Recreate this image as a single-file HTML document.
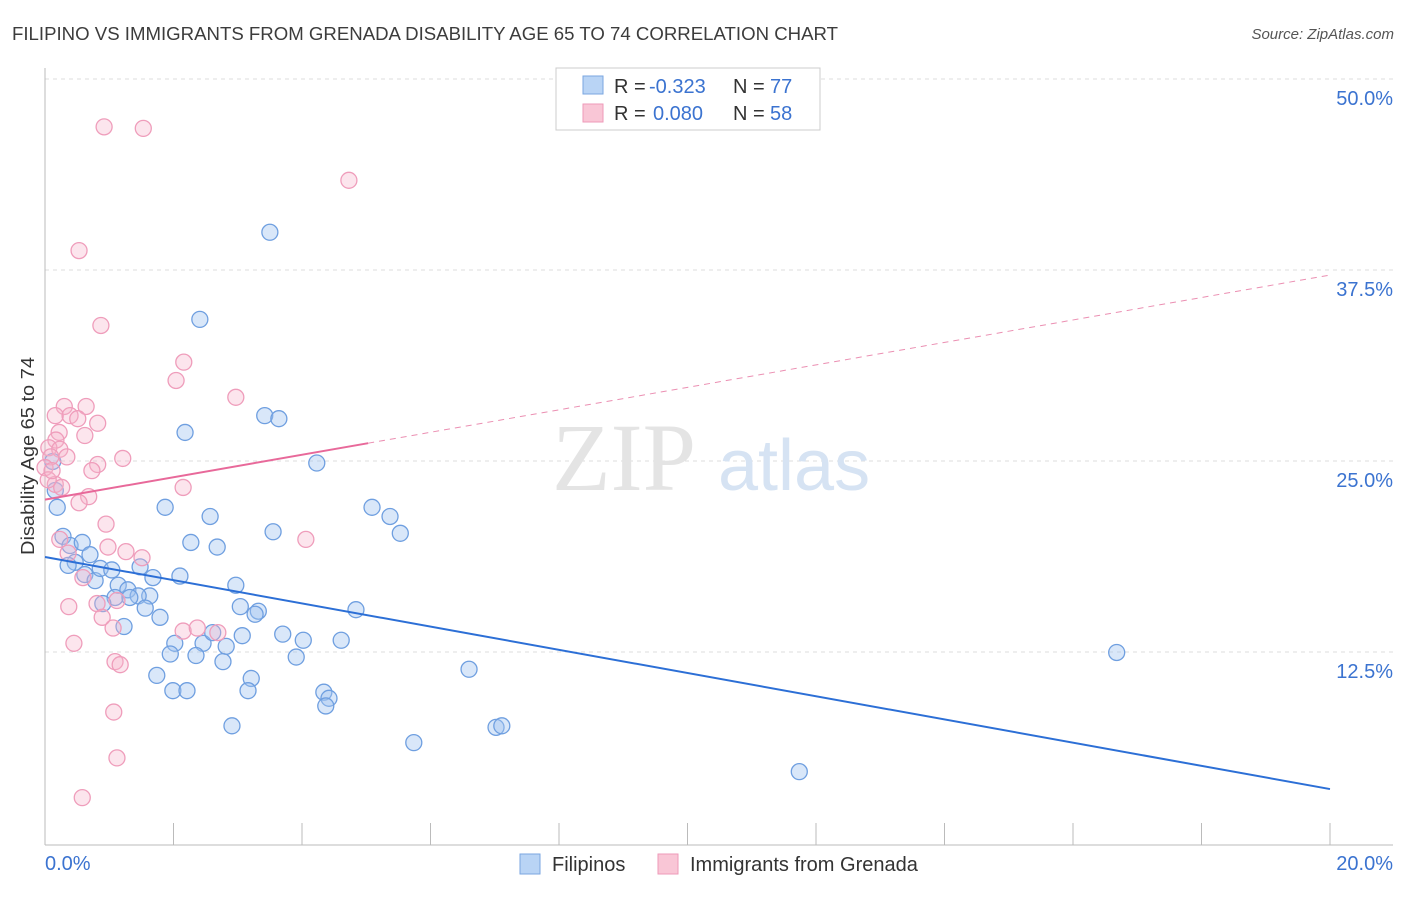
<!DOCTYPE html>
<html><head><meta charset="utf-8">
<style>
body{margin:0;background:#fff;font-family:"Liberation Sans",sans-serif;}
svg text{font-family:"Liberation Sans",sans-serif;}
</style></head>
<body>
<svg id="chart" width="1406" height="892" viewBox="0 0 1406 892" xmlns="http://www.w3.org/2000/svg">
<text x="12" y="40" font-size="18.6" fill="#3c3c3c" textLength="826" lengthAdjust="spacingAndGlyphs">FILIPINO VS IMMIGRANTS FROM GRENADA DISABILITY AGE 65 TO 74 CORRELATION CHART</text>
<text x="1394" y="39" font-size="15" fill="#555" text-anchor="end" font-style="italic">Source: ZipAtlas.com</text>
<g id="grid"></g>
<text x="552" y="490" font-size="96" fill="#e4e4e4" style="font-family:'Liberation Serif',serif">ZIP</text>
<text x="718" y="490" font-size="72" fill="#d6e3f3">atlas</text>
<g id="marks"></g>
<text transform="translate(34,456) rotate(-90)" font-size="18" fill="#333" text-anchor="middle" textLength="198" lengthAdjust="spacingAndGlyphs">Disability Age 65 to 74</text>
<g>
<rect x="556" y="68" width="264" height="62" fill="#fff" stroke="#ccc"/>
<rect x="583" y="76" width="20" height="18" fill="#b9d4f5" stroke="#7aa6e0"/>
<rect x="583" y="104" width="20" height="18" fill="#f9c6d6" stroke="#ee9ab8"/>
<text x="614" y="93" font-size="20" fill="#333">R =</text>
<text x="649" y="93" font-size="20" fill="#3b73d0">-0.323</text>
<text x="733" y="93" font-size="20" fill="#333">N =</text>
<text x="770" y="93" font-size="20" fill="#3b73d0">77</text>
<text x="614" y="120" font-size="20" fill="#333">R =</text>
<text x="653" y="120" font-size="20" fill="#3b73d0">0.080</text>
<text x="733" y="120" font-size="20" fill="#333">N =</text>
<text x="770" y="120" font-size="20" fill="#3b73d0">58</text>
</g>
<g>
<rect x="520" y="854" width="20" height="20" fill="#b9d4f5" stroke="#7aa6e0"/>
<text x="552" y="871" font-size="20" fill="#333">Filipinos</text>
<rect x="658" y="854" width="20" height="20" fill="#f9c6d6" stroke="#ee9ab8"/>
<text x="690" y="871" font-size="20" fill="#333">Immigrants from Grenada</text>
</g>
</svg>
<script>
const xTicks=[0,2,4,6,8,10,12,14,16,18,20];
const yTicks=[12.5,25,37.5,50];
const yTickLabels=["12.5%","25.0%","37.5%","50.0%"];
const blueX=[3.50,2.41,2.18,3.42,3.64,4.23,1.87,2.57,5.09,5.37,5.53,3.55,2.27,2.68,0.19,0.16,0.12,0.28,0.39,0.58,0.70,0.47,0.36,0.62,0.78,0.86,1.04,1.14,1.29,1.48,1.68,2.10,2.97,1.63,1.45,1.32,1.09,0.90,1.56,1.79,1.23,3.04,3.32,3.27,4.84,3.07,3.70,4.02,4.61,2.02,2.46,2.61,2.82,1.95,2.35,2.77,3.91,1.74,3.21,1.99,2.21,3.16,4.34,4.42,4.37,6.60,2.91,7.02,7.11,5.74,11.74,16.68];
const blueY=[40.1,34.4,27.0,28.1,27.9,25.0,22.1,21.5,22.1,21.5,20.4,20.5,19.8,19.5,22.1,23.2,25.1,20.2,19.6,19.8,19.0,18.5,18.3,17.7,17.3,18.1,18.0,17.0,16.7,18.2,17.5,17.6,17.0,16.3,16.3,16.2,16.2,15.8,15.5,14.9,14.3,15.6,15.3,15.1,15.4,13.7,13.8,13.4,13.4,13.2,13.2,13.9,13.0,12.5,12.4,12.0,12.3,11.1,10.9,10.1,10.1,10.1,10.0,9.6,9.1,11.5,7.8,7.7,7.8,6.7,4.8,12.6];
const pinkX=[0.92,1.53,4.73,0.53,0.87,2.16,2.04,2.97,0.30,0.64,0.16,0.39,0.51,0.82,0.22,0.62,0.17,0.06,0.23,0.34,0.09,0.0,0.82,0.73,1.21,0.16,0.26,2.15,0.68,0.53,0.95,4.06,0.23,0.36,0.98,1.26,1.51,0.59,0.81,1.12,0.37,0.89,2.15,2.37,2.69,1.06,0.45,1.09,1.17,1.07,1.12,0.58,0.05,0.11];
const pinkY=[47.0,46.9,43.5,38.9,34.0,31.6,30.4,29.3,28.7,28.7,28.1,28.1,27.9,27.6,27.0,26.8,26.5,26.0,25.9,25.4,25.4,24.7,24.9,24.5,25.3,23.6,23.4,23.4,22.8,22.4,21.0,20.0,20.0,19.1,19.5,19.2,18.8,17.5,15.8,16.0,15.6,14.9,14.0,14.2,13.9,14.2,13.2,12.0,11.8,8.7,5.7,3.1,23.9,24.5];
const blueTrend=[18.85,3.66];
const pinkTrend=[22.6,37.3];
const pinkSolidEnd=5.03;

const NS="http://www.w3.org/2000/svg";
const X=v=>45+v/20*1285;
const Y=v=>845-v*15.28;
function mk(tag,attrs,parent){const e=document.createElementNS(NS,tag);for(const k in attrs)e.setAttribute(k,attrs[k]);parent.appendChild(e);return e;}
const grid=document.getElementById('grid'),marks=document.getElementById('marks');
yTicks.forEach((t,i)=>{
 const l=mk('line',{x1:45,x2:1393,y1:Y(t)-2,y2:Y(t)-2,stroke:'#ddd','stroke-dasharray':'4,4'},grid);
 
 
 const tx=mk('text',{x:1393,y:Y(t)+24,'font-size':20,fill:'#3b73d0','text-anchor':'end'},grid);
 tx.textContent=yTickLabels[i];
 
 
});
const ax=mk('line',{x1:45,x2:1393,y1:845,y2:845,stroke:'#bbb'},grid);


const ay=mk('line',{x1:45,x2:45,y1:68,y2:845,stroke:'#bbb'},grid);


xTicks.forEach(t=>{
 const l=mk('line',{x1:X(t),x2:X(t),y1:823,y2:845,stroke:'#bbb'},grid);
 
 
});
[[0,"0.0%","start",45],[20,"20.0%","end",1393]].forEach(a=>{
 const tx=mk('text',{x:a[3],y:870,'font-size':20,fill:'#3b73d0','text-anchor':a[2]},grid);
 tx.textContent=a[1];
 
 
});
blueX.forEach((v,i)=>{
 const c=mk('circle',{cx:X(v),cy:Y(blueY[i]),r:8,fill:'rgba(160,196,240,0.4)',stroke:'#6f9fe0','stroke-width':1.3},marks);
 
 
});
pinkX.forEach((v,i)=>{
 const c=mk('circle',{cx:X(v),cy:Y(pinkY[i]),r:8,fill:'rgba(246,180,204,0.35)',stroke:'#ef9dbb','stroke-width':1.3},marks);
 
 
});
const bl=mk('line',{x1:X(0),y1:Y(blueTrend[0]),x2:X(20),y2:Y(blueTrend[1]),stroke:'#2c6fd6','stroke-width':2},marks);


const pAt=x=>pinkTrend[0]+(pinkTrend[1]-pinkTrend[0])*x/20;
const pl=mk('line',{x1:X(0),y1:Y(pAt(0)),x2:X(pinkSolidEnd),y2:Y(pAt(pinkSolidEnd)),stroke:'#e8699a','stroke-width':2},marks);


const pd=mk('line',{x1:X(pinkSolidEnd),y1:Y(pAt(pinkSolidEnd)),x2:X(20),y2:Y(pAt(20)),stroke:'#eb8fb2','stroke-width':1,'stroke-dasharray':'6,5'},marks);


</script>
</body></html>
